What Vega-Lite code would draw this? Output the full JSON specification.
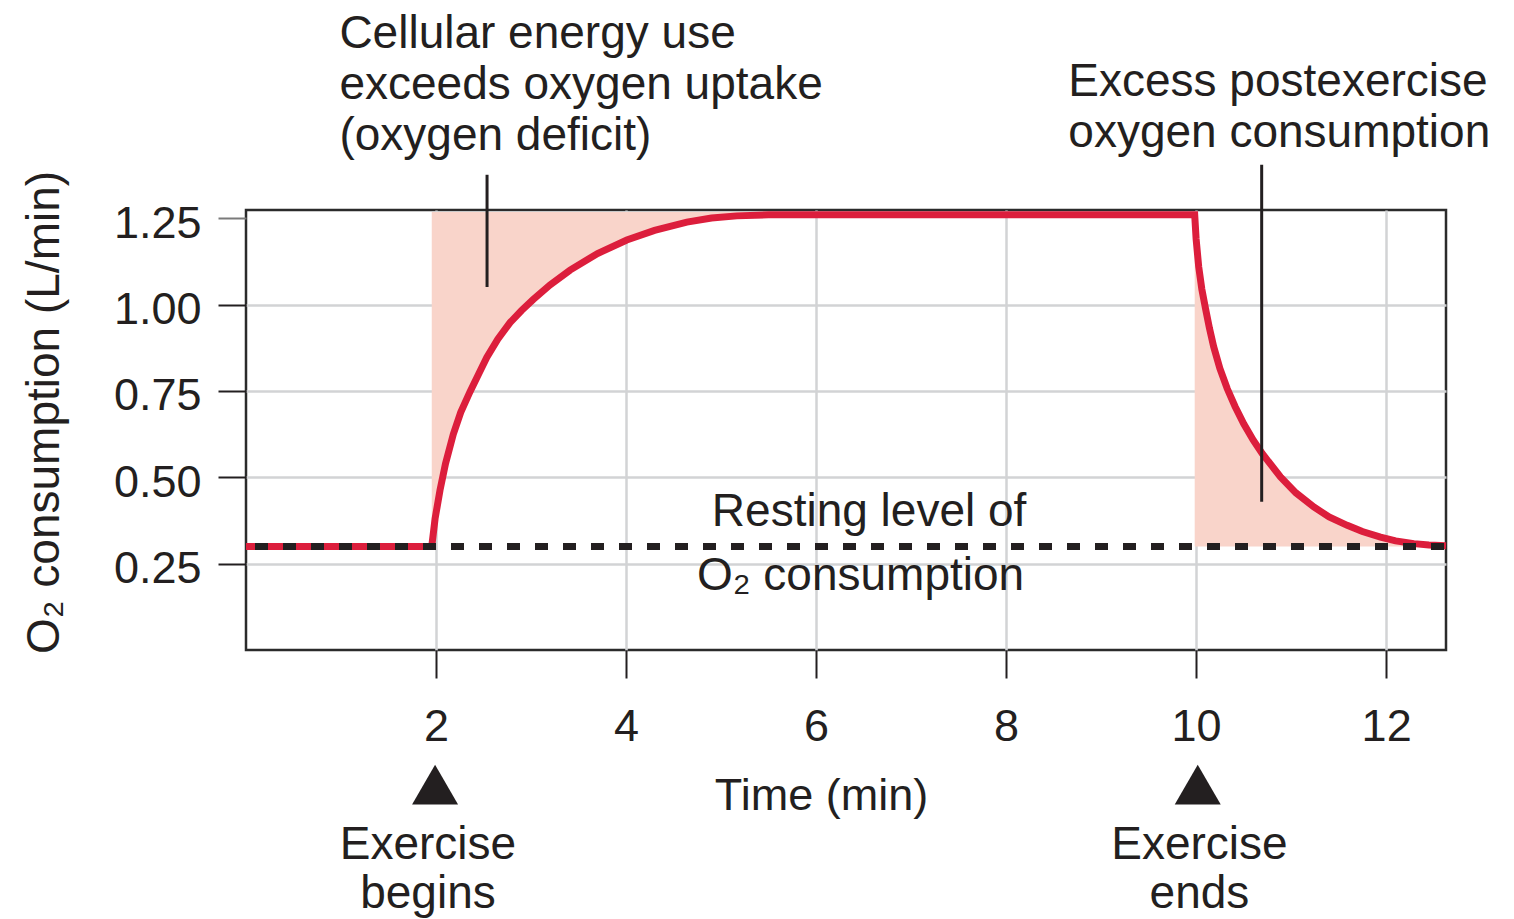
{
  "$schema": "https://vega.github.io/schema/vega-lite/v6.json",
  "width": 1200,
  "height": 440,
  "autosize": {"type": "none"},
  "padding": {"left": 246, "top": 210, "right": 68, "bottom": 269},
  "background": "white",
  "config": {
    "font": "Liberation Sans",
    "view": {"stroke": "#2b2b2b", "strokeWidth": 2.5}
  },
  "datasets": {
    "curve": [
      {"t": 0, "v": 0.3, "seg": "rest"},
      {"t": 1.955, "v": 0.3, "seg": "rise"},
      {"t": 1.99, "v": 0.38, "seg": "rise"},
      {"t": 2.042, "v": 0.463, "seg": "rise"},
      {"t": 2.1, "v": 0.54, "seg": "rise"},
      {"t": 2.182, "v": 0.625, "seg": "rise"},
      {"t": 2.26, "v": 0.688, "seg": "rise"},
      {"t": 2.358, "v": 0.748, "seg": "rise"},
      {"t": 2.45, "v": 0.8, "seg": "rise"},
      {"t": 2.534, "v": 0.847, "seg": "rise"},
      {"t": 2.65, "v": 0.9, "seg": "rise"},
      {"t": 2.779, "v": 0.948, "seg": "rise"},
      {"t": 2.9, "v": 0.983, "seg": "rise"},
      {"t": 3.024, "v": 1.015, "seg": "rise"},
      {"t": 3.2, "v": 1.057, "seg": "rise"},
      {"t": 3.411, "v": 1.1, "seg": "rise"},
      {"t": 3.7, "v": 1.148, "seg": "rise"},
      {"t": 4.008, "v": 1.187, "seg": "rise"},
      {"t": 4.3, "v": 1.215, "seg": "rise"},
      {"t": 4.64, "v": 1.239, "seg": "rise"},
      {"t": 4.9, "v": 1.251, "seg": "rise"},
      {"t": 5.166, "v": 1.257, "seg": "rise"},
      {"t": 5.5, "v": 1.26, "seg": "rise"},
      {"t": 9.985, "v": 1.26, "seg": "decay"},
      {"t": 10.0, "v": 1.19, "seg": "decay"},
      {"t": 10.027, "v": 1.11, "seg": "decay"},
      {"t": 10.06, "v": 1.045, "seg": "decay"},
      {"t": 10.098, "v": 0.99, "seg": "decay"},
      {"t": 10.14, "v": 0.932, "seg": "decay"},
      {"t": 10.185, "v": 0.878, "seg": "decay"},
      {"t": 10.25, "v": 0.815, "seg": "decay"},
      {"t": 10.327, "v": 0.757, "seg": "decay"},
      {"t": 10.41, "v": 0.705, "seg": "decay"},
      {"t": 10.501, "v": 0.655, "seg": "decay"},
      {"t": 10.6, "v": 0.608, "seg": "decay"},
      {"t": 10.695, "v": 0.569, "seg": "decay"},
      {"t": 10.888, "v": 0.501, "seg": "decay"},
      {"t": 11.05, "v": 0.455, "seg": "decay"},
      {"t": 11.239, "v": 0.414, "seg": "decay"},
      {"t": 11.4, "v": 0.385, "seg": "decay"},
      {"t": 11.59, "v": 0.361, "seg": "decay"},
      {"t": 11.75, "v": 0.343, "seg": "decay"},
      {"t": 11.941, "v": 0.327, "seg": "decay"},
      {"t": 12.1, "v": 0.316, "seg": "decay"},
      {"t": 12.292, "v": 0.308, "seg": "decay"},
      {"t": 12.45, "v": 0.304, "seg": "decay"},
      {"t": 12.63, "v": 0.302, "seg": "decay"}
    ],
    "resting": [
      {"t": 0, "t2": 12.63, "v": 0.3}
    ],
    "notes": [
      {"kind": "left", "t": 0.983, "v": 1.743, "label": "Cellular energy use\nexceeds oxygen uptake\n(oxygen deficit)"},
      {"kind": "left", "t": 8.655, "v": 1.603, "label": "Excess postexercise\noxygen consumption"},
      {"kind": "right", "t": 8.213, "v": 0.358, "label": "Resting level of"},
      {"kind": "right", "t": 8.19, "v": 0.175, "label": "O₂ consumption"},
      {"kind": "center", "t": 1.915, "v": -0.604, "label": "Exercise\nbegins"},
      {"kind": "center", "t": 10.035, "v": -0.604, "label": "Exercise\nends"}
    ],
    "markers": [
      {"t": 1.99, "v": -0.39},
      {"t": 10.017, "v": -0.39}
    ],
    "pointers": [
      {"t": 2.537, "v": 1.376, "v2": 1.051},
      {"t": 10.69, "v": 1.405, "v2": 0.429}
    ]
  },
  "encoding": {
    "x": {
      "field": "t", "type": "quantitative",
      "scale": {"domain": [0, 12.63], "nice": false, "zero": false},
      "axis": {
        "values": [2, 4, 6, 8, 10, 12],
        "title": "Time (min)",
        "domain": false,
        "grid": true, "gridColor": "#d2d3d5", "gridWidth": 2.5,
        "ticks": true, "tickSize": 28, "tickWidth": 2, "tickColor": "#231f20",
        "labelFontSize": 45, "labelColor": "#231f20", "labelPadding": 26,
        "labelFlush": false, "labelOverlap": false,
        "titleFontSize": 45, "titleFontWeight": "normal", "titleColor": "#231f20",
        "titleX": 575, "titleY": 159, "titleAlign": "center", "titleBaseline": "alphabetic"
      }
    },
    "y": {
      "field": "v", "type": "quantitative",
      "scale": {"domain": [0, 1.274], "nice": false, "zero": false},
      "axis": {
        "values": [0.25, 0.5, 0.75, 1.0, 1.25],
        "format": ".2f",
        "title": "O₂ consumption (L/min)",
        "domain": false,
        "grid": true, "gridColor": "#d2d3d5", "gridWidth": 2.5,
        "gridOpacity": {"condition": {"test": "datum.value > 1.2", "value": 0}, "value": 1},
        "ticks": true, "tickSize": 28, "tickWidth": 2,
        "tickColor": {"condition": {"test": "datum.value > 1.2", "value": "#7a7a7a"}, "value": "#231f20"},
        "labelFontSize": 45, "labelColor": "#231f20", "labelPadding": 17, "labelOffset": 5,
        "labelFlush": false, "labelOverlap": false,
        "titleFontSize": 46, "titleFontWeight": "normal", "titleColor": "#231f20",
        "titleAngle": 270, "titleX": -188, "titleY": 202, "titleAlign": "center", "titleBaseline": "alphabetic"
      }
    }
  },
  "layer": [
    {
      "data": {"name": "curve"},
      "transform": [{"filter": "datum.seg === 'rise'"}],
      "mark": {"type": "area", "color": "#f9d4ca", "opacity": 1},
      "encoding": {"y2": {"datum": 1.268}}
    },
    {
      "data": {"name": "curve"},
      "transform": [{"filter": "datum.seg === 'decay'"}],
      "mark": {"type": "area", "color": "#f9d4ca", "opacity": 1},
      "encoding": {"y2": {"datum": 0.3}}
    },
    {
      "data": {"name": "curve"},
      "mark": {"type": "line", "color": "#dc1e3c", "strokeWidth": 7, "interpolate": "linear"},
      "encoding": {}
    },
    {
      "data": {"name": "resting"},
      "mark": {"type": "rule", "color": "#231f20", "strokeWidth": 7, "strokeDash": [13, 15], "strokeDashOffset": 19},
      "encoding": {"x2": {"field": "t2"}}
    },
    {
      "data": {"name": "pointers"},
      "mark": {"type": "rule", "color": "#231f20", "strokeWidth": 3},
      "encoding": {"y2": {"field": "v2"}}
    },
    {
      "data": {"name": "notes"},
      "transform": [{"filter": "datum.kind === 'left'"}],
      "mark": {"type": "text", "align": "left", "baseline": "alphabetic", "fontSize": 46, "lineHeight": 51, "lineBreak": "\n", "color": "#231f20", "font": "Liberation Sans"},
      "encoding": {"text": {"field": "label"}}
    },
    {
      "data": {"name": "notes"},
      "transform": [{"filter": "datum.kind === 'right'"}],
      "mark": {"type": "text", "align": "right", "baseline": "alphabetic", "fontSize": 46, "color": "#231f20", "font": "Liberation Sans"},
      "encoding": {"text": {"field": "label"}}
    },
    {
      "data": {"name": "notes"},
      "transform": [{"filter": "datum.kind === 'center'"}],
      "mark": {"type": "text", "align": "center", "baseline": "alphabetic", "fontSize": 46, "lineHeight": 49, "lineBreak": "\n", "color": "#231f20", "font": "Liberation Sans"},
      "encoding": {"text": {"field": "label"}}
    },
    {
      "data": {"name": "markers"},
      "mark": {"type": "point", "shape": "triangle-up", "size": 2116, "filled": true, "color": "#231f20", "opacity": 1},
      "encoding": {}
    }
  ]
}
